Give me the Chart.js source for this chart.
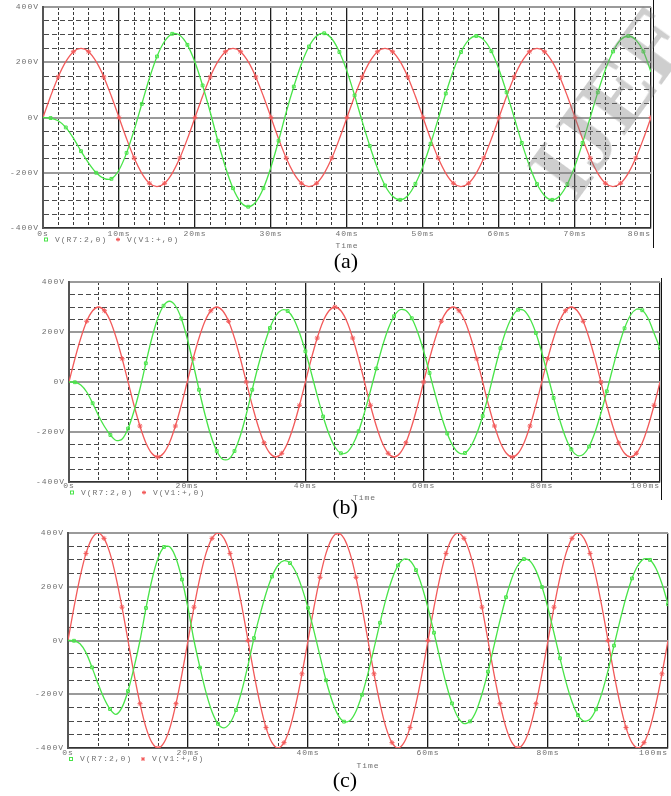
<!DOCTYPE html>
<html>
<head>
<meta charset="utf-8">
<title>PSpice waveforms</title>
<script src="https://cdn.jsdelivr.net/npm/chart.js@4.4.1/dist/chart.umd.min.js"></script>
<style>
  html, body { margin: 0; padding: 0; background: #fff; }
  #page { position: relative; width: 671px; height: 796px; overflow: hidden; background: #fff; }
  #page canvas { position: absolute; left: 0; }
  .cap { position: absolute; width: 60px; text-align: center; font-family: "Liberation Serif", "DejaVu Serif", serif;
         font-size: 22px; line-height: 22px; color: #000; }
  .edge { position: absolute; width: 1px; background: #111; }
  #wm { position: absolute; left: 505px; top: 48px; width: 210px; text-align: center;
        font: bold 94px/106px "Liberation Serif", serif; color: rgba(125, 125, 125, 0.38);
        transform: rotate(-54deg); pointer-events: none; }
</style>
</head>
<body>
<div id="page">
  <canvas id="chartA" width="671" height="250" style="top:0px"></canvas>
  <canvas id="chartB" width="671" height="232" style="top:270px"></canvas>
  <canvas id="chartC" width="671" height="250" style="top:520px"></canvas>
  <div class="edge" style="left:653px; top:0px; height:248px"></div>
  <div class="edge" style="left:661px; top:278px; height:222px"></div>
  <div id="wm">IJEE</div>
  <div class="cap" style="left:316px; top:250px">(a)</div>
  <div class="cap" style="left:315px; top:496px">(b)</div>
  <div class="cap" style="left:315px; top:769px">(c)</div>
</div>
<script>
// one sample per millisecond, values in volts
const sampleMs = 1;
const seriesNames = ['V(R7:2,0)', 'V(V1:+,0)'];

const yMajor = [-400, -200, 0, 200, 400];
const yLabels = ['-400V', '-200V', '0V', '200V', '400V'];

// (a) 0..80 ms
const xMajorA = [0, 10, 20, 30, 40, 50, 60, 70, 80];
const xLabelsA = ['0s', '10ms', '20ms', '30ms', '40ms', '50ms', '60ms', '70ms', '80ms'];
const greenA = [0, -2, -12, -36, -75, -122, -165, -200, -220, -222, -190, -128, -45,
  49, 142, 221, 276, 303, 298, 263, 200, 116, 20,
  -84, -179, -256, -306, -323, -306, -256, -179, -84,
  19, 112, 194, 257, 295, 305, 285, 237, 167, 80,
  -14, -103, -183, -246, -285, -298, -283, -240, -176, -95, -5,
  87, 170, 237, 280, 295, 281, 240, 174, 91, 0,
  -92, -175, -241, -283, -298, -283, -241, -175, -92, 0,
  91, 173, 239, 281, 295, 281, 239, 165];
const redA = [0, 77, 147, 202, 238, 250, 238, 202, 147, 77, 0, -77, -147, -202, -238, -250, -238, -202, -147, -77,
  0, 77, 147, 202, 238, 250, 238, 202, 147, 77, 0, -77, -147, -202, -238, -250, -238, -202, -147, -77,
  0, 77, 147, 202, 238, 250, 238, 202, 147, 77, 0, -77, -147, -202, -238, -250, -238, -202, -147, -77,
  0, 77, 147, 202, 238, 250, 238, 202, 147, 77, 0, -77, -147, -202, -238, -250, -238, -202, -147, -77,
  0];

// (b) and (c) 0..100 ms
const xMajorBC = [0, 20, 40, 60, 80, 100];
const xLabelsBC = ['0s', '20ms', '40ms', '60ms', '80ms', '100ms'];
const greenB = [0, -1, -12, -40, -85, -135, -178, -212, -234, -228, -186, -116, -28,
  75, 174, 254, 305, 323, 305, 254, 174, 75,
  -31, -129, -214, -276, -309, -309, -276, -214, -129, -31,
  63, 146, 216, 265, 288, 284, 253, 197, 123, 36,
  -54, -138, -209, -260, -285, -282, -251, -197, -122, -36,
  54, 140, 212, 263, 289, 286, 255, 199, 124, 36,
  -53, -136, -206, -257, -284, -284, -257, -206, -136, -50,
  46, 135, 209, 262, 289, 286, 253, 196, 118, 28,
  -64, -149, -220, -270, -294, -290, -258, -201, -125, -37,
  55, 142, 215, 267, 291, 287, 254, 195, 135];
const redB = [0, 93, 176, 243, 285, 300, 285, 243, 176, 93, 0, -93, -176, -243, -285, -300, -285, -243, -176, -93,
  0, 93, 176, 243, 285, 300, 285, 243, 176, 93, 0, -93, -176, -243, -285, -300, -285, -243, -176, -93,
  0, 93, 176, 243, 285, 300, 285, 243, 176, 93, 0, -93, -176, -243, -285, -300, -285, -243, -176, -93,
  0, 93, 176, 243, 285, 300, 285, 243, 176, 93, 0, -93, -176, -243, -285, -300, -285, -243, -176, -93,
  0, 93, 176, 243, 285, 300, 285, 243, 176, 93, 0, -93, -176, -243, -285, -300, -285, -243, -176, -93,
  0];
const greenC = [0, -1, -12, -45, -100, -160, -215, -255, -275, -249, -188, -101, 0,
  121, 227, 306, 348, 348, 306, 227, 121, 0,
  -101, -193, -265, -310, -325, -307, -259, -184, -92,
  9, 96, 175, 238, 280, 297, 288, 253, 195, 121, 35,
  -58, -148, -223, -277, -302, -298, -263, -202, -122, -29,
  66, 155, 228, 279, 303, 297, 262, 201, 121, 29,
  -68, -159, -234, -286, -309, -301, -264, -199, -116, -20,
  75, 161, 233, 281, 303, 296, 260, 199, 120, 28,
  -66, -155, -228, -278, -300, -293, -256, -194, -112, -19,
  74, 160, 231, 280, 304, 300, 268, 211, 135];
const redC = [0, 124, 235, 324, 380, 400, 380, 324, 235, 124, 0, -124, -235, -324, -380, -400, -380, -324, -235, -124,
  0, 124, 235, 324, 380, 400, 380, 324, 235, 124, 0, -124, -235, -324, -380, -400, -380, -324, -235, -124,
  0, 124, 235, 324, 380, 400, 380, 324, 235, 124, 0, -124, -235, -324, -380, -400, -380, -324, -235, -124,
  0, 124, 235, 324, 380, 400, 380, 324, 235, 124, 0, -124, -235, -324, -380, -400, -380, -324, -235, -124,
  0, 124, 235, 324, 380, 400, 380, 324, 235, 124, 0, -124, -235, -324, -380, -400, -380, -324, -235, -124,
  0];

const GREEN = 'rgb(72, 228, 72)';
const RED = 'rgb(242, 90, 90)';
const LABEL_FONT = { family: '"Liberation Mono", "DejaVu Sans Mono", monospace', size: 8, lineHeight: 1 };
const LABEL_COLOR = '#707070';

function isMajor(list, v) {
  return list.some(m => Math.abs(m - v) < 1e-6);
}

// spaced-out probe font, like the PSpice screen dump
const letterSpacing = {
  id: 'letterSpacing',
  beforeDraw(chart) { chart.ctx.letterSpacing = '1px'; }
};

// PSpice style legend line under the x tick labels
const spiceLegend = {
  id: 'spiceLegend',
  afterDraw(chart, args, opts) {
    const c = chart.ctx;
    const names = chart.data.datasets.map(d => d.label);
    c.save();
    c.letterSpacing = '1px';
    c.font = '8px "Liberation Mono", monospace';
    c.fillStyle = LABEL_COLOR;
    c.textBaseline = 'middle';
    c.strokeStyle = GREEN;
    c.lineWidth = 1;
    c.strokeRect(opts.x + 0.5, opts.y - 1.5, 3, 3);
    c.fillText(names[0], opts.x + 11, opts.y);
    c.strokeStyle = RED;
    const rx = opts.x + 74, ry = opts.y;
    c.beginPath();
    c.moveTo(rx - 2, ry); c.lineTo(rx + 2, ry);
    c.moveTo(rx, ry - 2); c.lineTo(rx, ry + 2);
    c.moveTo(rx - 1.5, ry - 1.5); c.lineTo(rx + 1.5, ry + 1.5);
    c.moveTo(rx - 1.5, ry + 1.5); c.lineTo(rx + 1.5, ry - 1.5);
    c.stroke();
    c.fillText(names[1], opts.x + 83, opts.y);
    c.restore();
  }
};

function buildChart(id, p) {
  const pts = arr => arr.map((v, i) => ({ x: i * sampleMs, y: v }));
  const lastX = p.xMajor[p.xMajor.length - 1];
  return new Chart(document.getElementById(id), {
    type: 'line',
    data: {
      datasets: [
        {
          label: seriesNames[0], data: pts(p.green),
          borderColor: GREEN, borderWidth: 1.3, tension: 0.3, fill: false,
          pointStyle: 'rect', pointBorderColor: GREEN, pointBackgroundColor: 'rgba(255,255,255,0)',
          pointBorderWidth: 1, pointHoverRadius: 0,
          pointRadius: c => (c.dataIndex % p.markEvery === 1 ? 2 : 0)
        },
        {
          label: seriesNames[1], data: pts(p.red),
          borderColor: RED, borderWidth: 1.3, tension: 0.3, fill: false,
          pointStyle: 'star', pointBorderColor: RED, pointBorderWidth: 1, pointHoverRadius: 0,
          pointRadius: c => (c.dataIndex > 0 && c.dataIndex % p.markEvery === 0 ? 2.5 : 0)
        }
      ]
    },
    options: {
      responsive: false,
      animation: false,
      devicePixelRatio: 1,
      layout: { padding: p.pad },
      plugins: {
        legend: { display: false },
        tooltip: { enabled: false },
        spiceLegend: p.legend
      },
      scales: {
        x: {
          type: 'linear', min: 0, max: p.xMax,
          ticks: {
            stepSize: p.xMinor, autoSkip: false, maxRotation: 0, padding: p.xTickPad,
            font: LABEL_FONT, color: LABEL_COLOR,
            callback: v => {
              const k = p.xMajor.indexOf(v);
              if (k < 0) return '';
              const s = p.xLabels[k];
              // last label sits left of its tick, as in the original
              return v === lastX ? s + ' '.repeat(s.length) : s;
            }
          },
          grid: {
            drawTicks: false,
            color: c => (c.tick && isMajor(p.xMajor, c.tick.value) ? '#1e1e1e' : '#3a3a3a'),
            lineWidth: c => (c.tick && isMajor(p.xMajor, c.tick.value) ? 1.3 : 1)
          },
          border: {
            color: '#333', width: 1.5,
            dash: c => (c.tick && !isMajor(p.xMajor, c.tick.value) ? [3, 2] : [])
          },
          title: { display: true, text: 'Time', font: LABEL_FONT, color: LABEL_COLOR, padding: 0 },
          afterFit: s => { s.height = p.xHeight; s.paddingLeft = 0; s.paddingRight = 0; }
        },
        y: {
          min: -400, max: 400,
          ticks: {
            stepSize: 50, autoSkip: false, padding: 4,
            font: LABEL_FONT, color: LABEL_COLOR,
            callback: v => {
              const k = yMajor.indexOf(v);
              return k >= 0 ? yLabels[k] : '';
            }
          },
          grid: {
            drawTicks: false,
            color: c => (c.tick && isMajor(yMajor, c.tick.value) ? '#9a9a9a' : '#4a4a4a'),
            lineWidth: c => (c.tick && isMajor(yMajor, c.tick.value) ? 2 : 1)
          },
          border: {
            color: '#555', width: 2,
            dash: c => (c.tick && !isMajor(yMajor, c.tick.value) ? [5, 3] : [])
          },
          afterFit: s => { s.width = p.left; s.paddingTop = 0; s.paddingBottom = 0; }
        }
      }
    },
    plugins: [letterSpacing, spiceLegend]
  });
}

buildChart('chartA', {
  green: greenA, red: redA, xMax: 80, xMinor: 2, xMajor: xMajorA, xLabels: xLabelsA,
  markEvery: 2, left: 43, pad: { top: 7, right: 20, bottom: 0, left: 0 },
  xHeight: 22, xTickPad: 2, legend: { x: 44, y: 239.5 }
});
buildChart('chartB', {
  green: greenB, red: redB, xMax: 100, xMinor: 5, xMajor: xMajorBC, xLabels: xLabelsBC,
  markEvery: 3, left: 69, pad: { top: 12, right: 11, bottom: 0, left: 0 },
  xHeight: 20, xTickPad: 0, legend: { x: 70, y: 222.5 }
});
buildChart('chartC', {
  green: greenC, red: redC, xMax: 100, xMinor: 5, xMajor: xMajorBC, xLabels: xLabelsBC,
  markEvery: 3, left: 68, pad: { top: 13, right: 1, bottom: 0, left: 0 },
  xHeight: 22, xTickPad: 1, legend: { x: 69, y: 239 }
});
</script>
</body>
</html>
